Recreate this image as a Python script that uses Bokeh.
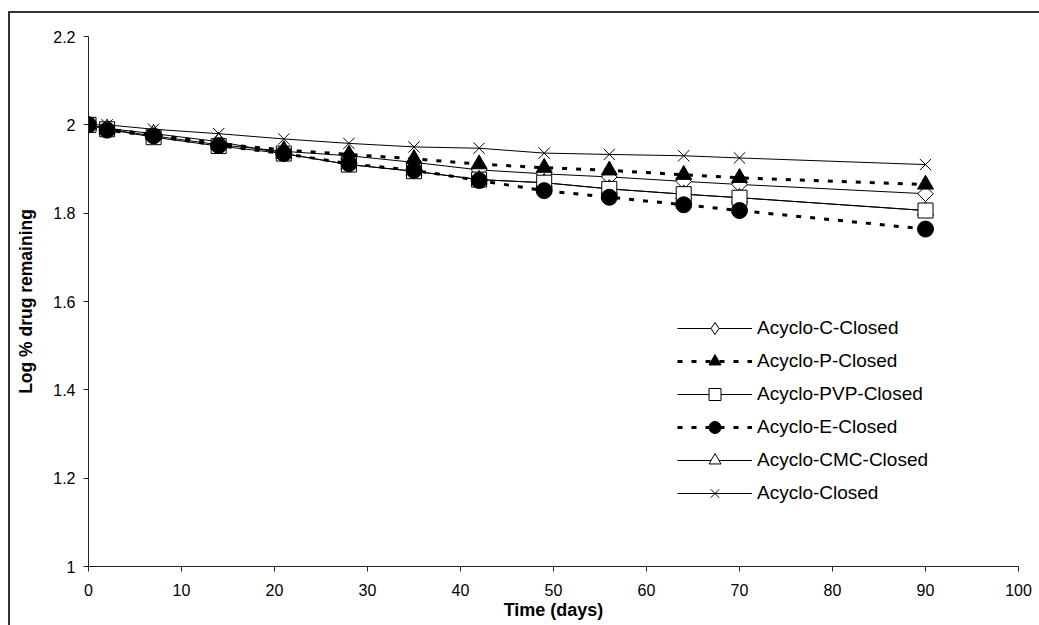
import numpy as np
from bokeh.plotting import figure
from bokeh.models import Range1d, FixedTicker, NumeralTickFormatter, Legend, LegendItem
from bokeh.embed import file_html
from bokeh.resources import INLINE

# ---- data ----
days = [0, 2, 7, 14, 21, 28, 35, 42, 49, 56, 64, 70, 90]
acyclo_c = [2.000, 1.990, 1.975, 1.955, 1.940, 1.930, 1.915, 1.898, 1.889, 1.882, 1.872, 1.865, 1.844]
acyclo_p = [2.000, 1.990, 1.978, 1.957, 1.943, 1.933, 1.923, 1.911, 1.903, 1.897, 1.887, 1.880, 1.865]
acyclo_pvp = [2.000, 1.990, 1.972, 1.952, 1.935, 1.910, 1.895, 1.876, 1.869, 1.855, 1.843, 1.835, 1.806]
acyclo_e = [2.000, 1.988, 1.975, 1.953, 1.935, 1.912, 1.897, 1.874, 1.851, 1.836, 1.819, 1.806, 1.764]
acyclo_cmc = [2.000, 1.992, 1.980, 1.962, 1.935, 1.910, 1.895, 1.876, 1.869, 1.855, 1.843, 1.835, 1.806]
acyclo_closed = [2.000, 2.000, 1.990, 1.980, 1.968, 1.958, 1.950, 1.947, 1.936, 1.933, 1.930, 1.925, 1.910]

series_names = ["Acyclo-C-Closed", "Acyclo-P-Closed", "Acyclo-PVP-Closed",
                "Acyclo-E-Closed", "Acyclo-CMC-Closed", "Acyclo-Closed"]
x_ticks = [0, 10, 20, 30, 40, 50, 60, 70, 80, 90, 100]
y_ticks = [1, 1.2, 1.4, 1.6, 1.8, 2, 2.2]

FONT = "Liberation Sans"

p = figure(frame_width=930, frame_height=530,
           min_border_left=78, min_border_right=21, min_border_top=23, min_border_bottom=59,
           x_range=Range1d(0, 100), y_range=Range1d(1, 2.2),
           output_backend="svg", toolbar_location=None,
           background_fill_color="white", border_fill_color="white")
p.styles = {"margin-left": "8px", "margin-top": "11px",
            "border-left": "2px solid #333333", "border-top": "2px solid #333333"}
p.outline_line_color = None
p.grid.visible = False

for ax in (p.xaxis[0], p.yaxis[0]):
    ax.axis_line_color = "#222222"
    ax.major_tick_line_color = "#222222"
    ax.major_tick_out = 5
    ax.major_tick_in = 0
    ax.minor_tick_out = 0
    ax.minor_tick_in = 0
    ax.major_label_text_font = FONT
    ax.major_label_text_font_size = "16px"
    ax.major_label_text_color = "black"
    ax.axis_label_text_font = FONT
    ax.axis_label_text_font_style = "bold"
    ax.axis_label_text_color = "black"

p.xaxis.axis_label_text_font_size = "18px"
p.yaxis.axis_label_text_font_size = "17.5px"
p.xaxis.ticker = FixedTicker(ticks=x_ticks)
p.yaxis.ticker = FixedTicker(ticks=y_ticks)
p.yaxis.formatter = NumeralTickFormatter(format="0.[0]")
p.xaxis.major_label_standoff = 12
p.yaxis.major_label_standoff = 8
p.xaxis.axis_label = "Time (days)"
p.yaxis.axis_label = "Log % drug remaining"
p.xaxis.axis_label_standoff = 1
p.yaxis.axis_label_standoff = 14

DOT = "5 9"

# rendering order (later on top): C, P, CMC, PVP, E, Closed
l_c = p.line(days, acyclo_c, line_color="black", line_width=1)
# narrow diamond (used for the legend), covered by the wider rotated square
m_c_leg = p.scatter(days, acyclo_c, marker="diamond", size=12,
                    fill_color="white", line_color="black", line_width=1)
m_c = p.scatter(days, acyclo_c, marker="square", angle=np.pi / 4, size=11,
                fill_color="white", line_color="black", line_width=1)
l_p = p.line(days, acyclo_p, line_color="black", line_width=3, line_dash=DOT)
m_p = p.scatter(days, acyclo_p, marker="triangle", size=16,
                fill_color="black", line_color="black", line_width=1)
l_cmc = p.line(days, acyclo_cmc, line_color="black", line_width=1)
m_cmc = p.scatter(days, acyclo_cmc, marker="triangle", size=16,
                  fill_color="white", line_color="black", line_width=1)
l_pvp = p.line(days, acyclo_pvp, line_color="black", line_width=1)
m_pvp = p.scatter(days, acyclo_pvp, marker="square", size=15,
                  fill_color="white", line_color="black", line_width=1)
l_e = p.line(days, acyclo_e, line_color="black", line_width=3, line_dash=DOT)
m_e = p.scatter(days, acyclo_e, marker="circle", size=16,
                fill_color="black", line_color="black", line_width=1)
l_x = p.line(days, acyclo_closed, line_color="black", line_width=1)
m_x = p.scatter(days, acyclo_closed, marker="x", size=16,
                line_color="black", line_width=1)

items = [
    LegendItem(label=series_names[0], renderers=[l_c, m_c_leg]),
    LegendItem(label=series_names[1], renderers=[l_p, m_p]),
    LegendItem(label=series_names[2], renderers=[l_pvp, m_pvp]),
    LegendItem(label=series_names[3], renderers=[l_e, m_e]),
    LegendItem(label=series_names[4], renderers=[l_cmc, m_cmc]),
    LegendItem(label=series_names[5], renderers=[l_x, m_x]),
]
legend = Legend(items=items, location=(589, 58),
                glyph_width=75, glyph_height=30, label_height=22, spacing=3,
                padding=0, margin=0, label_standoff=5,
                label_text_font=FONT, label_text_font_size="19px",
                label_text_color="black",
                border_line_alpha=0, background_fill_alpha=0)
p.add_layout(legend, "center")

open("out.html", "w").write(file_html(p, INLINE))
